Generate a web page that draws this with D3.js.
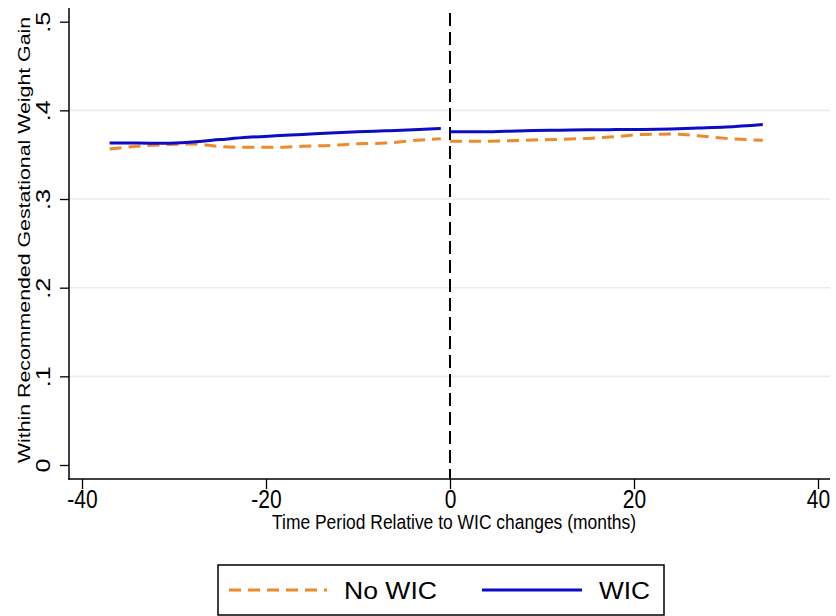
<!DOCTYPE html>
<html>
<head>
<meta charset="utf-8">
<script src="https://cdn.jsdelivr.net/npm/d3@7"></script>
<style>
  html, body { margin: 0; padding: 0; background: #fff; }
  svg { display: block; font-family: "Liberation Sans", Arial, sans-serif; }
</style>
</head>
<body>
<svg id="chart" width="836" height="616"></svg>
<script>
// Months relative to the WIC changes, before and after month 0
const monthsPre  = [-37, -34, -31, -28, -25, -22, -19, -16, -13, -10, -7, -4, -1];
const monthsPost = [0, 3, 6, 9, 12, 15, 18, 21, 24, 27, 30, 34];

// Share within recommended gestational weight gain
const wicPre    = [0.3632, 0.3632, 0.3628, 0.3643, 0.3670, 0.3696, 0.3713, 0.3728, 0.3744, 0.3758, 0.3769, 0.3781, 0.3796];
const wicPost   = [0.3758, 0.3758, 0.3764, 0.3773, 0.3777, 0.3781, 0.3783, 0.3785, 0.3791, 0.3801, 0.3812, 0.3841];
const noWicPre  = [0.3564, 0.3595, 0.3613, 0.3621, 0.3592, 0.3583, 0.3583, 0.3595, 0.3604, 0.3623, 0.3631, 0.3660, 0.3679];
const noWicPost = [0.3651, 0.3651, 0.3656, 0.3666, 0.3673, 0.3684, 0.3703, 0.3728, 0.3732, 0.3713, 0.3684, 0.3662];

const xTicks = [-40, -20, 0, 20, 40];
const yTicks = [0, 0.1, 0.2, 0.3, 0.4, 0.5];
const gridTicks = [0.1, 0.2, 0.3, 0.4];
const legendLabels = ["No WIC", "WIC"];

const ORANGE = "#ec8a2c";
const BLUE = "#0c0cc4";
const STRETCH = 1.2;

const svg = d3.select("#chart");

const plot = { left: 69, right: 830, top: 8, bottom: 479 };
const x = d3.scaleLinear().domain([-40, 40]).range([82, 818]);
const y = d3.scaleLinear().domain([0, 0.5]).range([465, 21.7]);

// gridlines
svg.append("g").selectAll("line").data(gridTicks).join("line")
  .attr("x1", plot.left).attr("x2", plot.right)
  .attr("y1", d => y(d)).attr("y2", d => y(d))
  .attr("stroke", "#e9ecec").attr("stroke-width", 1.6);

// axes
const yAxis = svg.append("g").attr("transform", `translate(${plot.left},0)`)
  .call(d3.axisLeft(y).tickValues(yTicks).tickSize(9).tickPadding(0)
    .tickFormat(d => d === 0 ? "0" : d3.format(".1f")(d).replace(/^0/, "")));
yAxis.select(".domain").remove();
yAxis.selectAll(".tick line").attr("stroke", "#000").attr("stroke-width", 1.3);
yAxis.selectAll(".tick text")
  .attr("x", null).attr("dy", null)
  .attr("text-anchor", "middle")
  .attr("font-size", 21).attr("fill", "#000")
  .attr("transform", `translate(-19,0) scale(1,${STRETCH}) rotate(-90)`);

const xAxis = svg.append("g").attr("transform", `translate(0,${plot.bottom})`)
  .call(d3.axisBottom(x).tickValues(xTicks).tickSize(10).tickFormat(d3.format("d")));
xAxis.select(".domain").remove();
xAxis.selectAll(".tick line").attr("stroke", "#000").attr("stroke-width", 1.3);
xAxis.selectAll(".tick text")
  .attr("y", null).attr("dy", null)
  .attr("text-anchor", "middle")
  .attr("font-size", 21).attr("fill", "#000")
  .attr("transform", `translate(0,28.5) scale(1,${STRETCH})`)
  .text(d => d < 0 ? "-" + Math.abs(d) : String(d));

// axis lines
svg.append("line").attr("x1", plot.left).attr("x2", plot.left)
  .attr("y1", plot.top).attr("y2", plot.bottom + 0.7)
  .attr("stroke", "#000").attr("stroke-width", 1.5);
svg.append("line").attr("x1", plot.left - 0.7).attr("x2", plot.right)
  .attr("y1", plot.bottom).attr("y2", plot.bottom)
  .attr("stroke", "#000").attr("stroke-width", 1.5);

// reference line at month 0
svg.append("line")
  .attr("x1", x(0)).attr("x2", x(0))
  .attr("y1", 13).attr("y2", plot.bottom)
  .attr("stroke", "#000").attr("stroke-width", 2)
  .attr("stroke-dasharray", "13,6");

// series
const line = d3.line().x(d => x(d[0])).y(d => y(d[1])).curve(d3.curveMonotoneX);
const series = [
  { months: monthsPre,  values: noWicPre,  color: ORANGE, dash: "12,7" },
  { months: monthsPost, values: noWicPost, color: ORANGE, dash: "12,7" },
  { months: monthsPre,  values: wicPre,    color: BLUE,   dash: null },
  { months: monthsPost, values: wicPost,   color: BLUE,   dash: null }
];
svg.append("g").selectAll("path").data(series).join("path")
  .attr("d", s => line(d3.zip(s.months, s.values)))
  .attr("fill", "none")
  .attr("stroke", s => s.color)
  .attr("stroke-width", 3)
  .attr("stroke-dasharray", s => s.dash);

// axis titles
svg.append("text")
  .attr("transform", `translate(454,529) scale(1,${STRETCH})`)
  .attr("text-anchor", "middle").attr("font-size", 17.4).attr("fill", "#000")
  .attr("textLength", 364).attr("lengthAdjust", "spacingAndGlyphs")
  .text("Time Period Relative to WIC changes (months)");
svg.append("text")
  .attr("transform", `translate(30,240) scale(1,1.24) rotate(-90)`)
  .attr("text-anchor", "middle").attr("font-size", 17.2).attr("fill", "#000")
  .text("Within Recommended Gestational Weight Gain");

// legend
const lg = svg.append("g");
lg.append("rect").attr("x", 218).attr("y", 565).attr("width", 446).attr("height", 50)
  .attr("fill", "#fff").attr("stroke", "#000").attr("stroke-width", 1.5);
const legendItems = [
  { label: legendLabels[0], color: ORANGE, dash: "12,7", x1: 229, x2: 327, tx: 344, w: 93 },
  { label: legendLabels[1], color: BLUE,   dash: null,   x1: 482, x2: 582, tx: 599, w: 51 }
];
legendItems.forEach(it => {
  lg.append("line").attr("x1", it.x1).attr("x2", it.x2).attr("y1", 590).attr("y2", 590)
    .attr("stroke", it.color).attr("stroke-width", 3).attr("stroke-dasharray", it.dash);
  lg.append("text")
    .attr("transform", `translate(${it.tx},599) scale(1,${STRETCH})`)
    .attr("font-size", 20).attr("fill", "#000")
    .attr("textLength", it.w).attr("lengthAdjust", "spacingAndGlyphs")
    .text(it.label);
});
</script>
</body>
</html>
